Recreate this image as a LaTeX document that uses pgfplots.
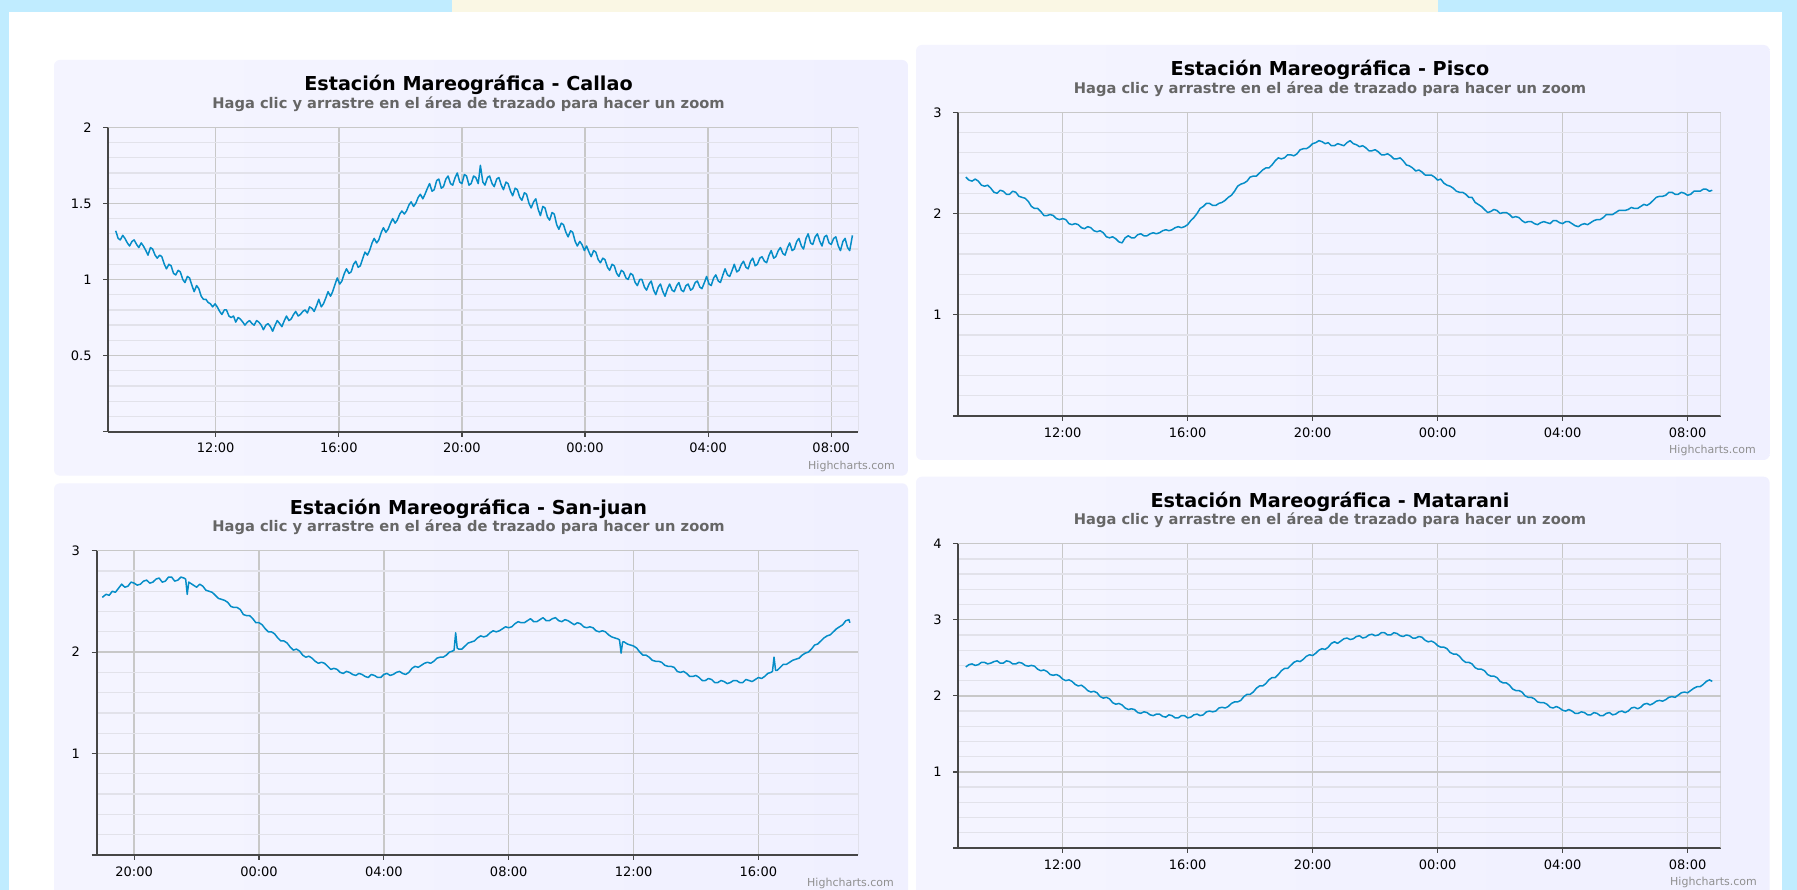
\documentclass[border=0pt]{standalone}
\usepackage{fontspec}
\setmainfont{DejaVu Sans}
\usepackage{pgfplots}
\pgfplotsset{compat=1.18}
\definecolor{hcblue}{HTML}{058DC7}
\definecolor{bgcyan}{RGB}{192,236,255}
\definecolor{lav}{RGB}{240,240,255}
\definecolor{majgrid}{RGB}{200,200,200}
\definecolor{mingrid}{RGB}{226,226,234}
\definecolor{subgray}{HTML}{666666}
\definecolor{hcgray}{HTML}{909090}
\definecolor{axisdark}{RGB}{70,70,70}
\definecolor{banner}{RGB}{250,247,228}
\pgfplotsset{
  tide/.style={
    scale only axis, anchor=south west, ymin=0,
    axis x line*=bottom, axis y line*=left,
    axis line style={line width=1.8pt, draw=axisdark},
    xmajorgrids, ymajorgrids, yminorgrids,
    minor y tick num=4,
    major grid style={draw=majgrid, line width=1.4pt},
    minor grid style={draw=mingrid, line width=1.3pt},
    tick align=outside, major tick length=5pt,
    major tick style={line width=1.2pt, draw=axisdark},
    minor tick style={draw=none},
    xticklabel style={font=\fontsize{13}{13}\selectfont, inner sep=0pt, anchor=center, yshift=-11.5pt},
    yticklabel style={font=\fontsize{13}{13}\selectfont, inner sep=0pt, anchor=east, xshift=-11.5pt},
  },
  tideline/.style={hcblue, line width=1.5pt, line join=round},
}
\newcommand{\titles}[3]{%
  \node[anchor=base, font=\bfseries\fontsize{19.2}{20}\selectfont] at (#1,#2) {Estación Mareográfica - #3};
  \node[anchor=base, font=\bfseries\fontsize{14.66}{15}\selectfont, text=subgray] at (#1,#2-17.6) {Haga clic y arrastre en el área de trazado para hacer un zoom};}
\begin{document}
\begin{tikzpicture}
\path[use as bounding box] (0,0) rectangle (1797pt,890pt);
\clip (0,0) rectangle (1797pt,890pt);
\begin{scope}[x=1pt,y=1pt]
\fill[bgcyan] (0,0) rectangle (1797,890);
\fill[banner] (452,877.5) rectangle (1438,890);
\fill[white] (9,-5) rectangle (1782,877.5);
\shade[rounded corners=6pt, left color=white!30!lav, right color=lav] (54,414.3) rectangle (908,830);
\shade[rounded corners=6pt, left color=white!30!lav, right color=lav] (916,430) rectangle (1769.6,845);
\shade[rounded corners=6pt, left color=white!30!lav, right color=lav] (54,-20) rectangle (908,406.7);
\shade[rounded corners=6pt, left color=white!30!lav, right color=lav] (916,-20) rectangle (1769.6,413.3);
\titles{468.5}{799.3}{Callao}
\titles{1330}{814.3}{Pisco}
\titles{468.5}{375.9}{San-juan}
\titles{1330}{382.9}{Matarani}
\node[anchor=base east, inner sep=0pt, font=\fontsize{11}{11}\selectfont, text=hcgray] at (895,420) {Highcharts.com};
\node[anchor=base east, inner sep=0pt, font=\fontsize{11}{11}\selectfont, text=hcgray] at (1756,436) {Highcharts.com};
\node[anchor=base east, inner sep=0pt, font=\fontsize{11}{11}\selectfont, text=hcgray] at (894,3) {Highcharts.com};
\node[anchor=base east, inner sep=0pt, font=\fontsize{11}{11}\selectfont, text=hcgray] at (1757,4) {Highcharts.com};
\end{scope}

% Callao
\begin{axis}[tide, at={(108.3pt,458.3pt)}, width=750pt, height=304.4pt,
  xmin=8.51, xmax=32.88, ymax=2,
  xtick={12,16,20,24,28,32}, xticklabels={12:00,16:00,20:00,00:00,04:00,08:00},
  ytick={0,0.5,1,1.5,2}, yticklabels={,0.5,1,1.5,2}]
\draw[majgrid, line width=1.4pt] (rel axis cs:0,1) -- (rel axis cs:1,1) -- (rel axis cs:1,0);
\addplot[tideline] coordinates {
(8.75,1.32)(8.83,1.27)(8.90,1.26)(8.98,1.29)(9.05,1.27)(9.13,1.24)(9.20,1.22)(9.28,1.25)(9.35,1.26)(9.43,1.23)(9.50,1.21)(9.58,1.24)(9.65,1.22)(9.73,1.19)(9.80,1.16)(9.88,1.21)(9.95,1.20)(10.03,1.16)(10.10,1.14)(10.18,1.16)(10.25,1.15)(10.33,1.10)(10.40,1.07)(10.48,1.10)(10.55,1.09)(10.63,1.04)(10.70,1.03)(10.78,1.06)(10.85,1.05)(10.93,1.00)(11.00,0.98)(11.08,1.02)(11.15,1.01)(11.23,0.96)(11.30,0.92)(11.38,0.96)(11.45,0.94)(11.53,0.89)(11.60,0.87)(11.68,0.87)(11.75,0.85)(11.83,0.84)(11.90,0.82)(11.98,0.84)(12.05,0.82)(12.13,0.79)(12.20,0.77)(12.28,0.80)(12.35,0.80)(12.43,0.76)(12.50,0.75)(12.58,0.76)(12.65,0.72)(12.73,0.75)(12.80,0.74)(12.88,0.72)(12.95,0.70)(13.03,0.72)(13.10,0.73)(13.18,0.71)(13.25,0.70)(13.33,0.73)(13.40,0.72)(13.48,0.70)(13.55,0.67)(13.63,0.70)(13.70,0.71)(13.78,0.69)(13.85,0.66)(13.93,0.70)(14.00,0.73)(14.08,0.71)(14.15,0.69)(14.23,0.73)(14.30,0.76)(14.38,0.73)(14.45,0.74)(14.53,0.77)(14.60,0.79)(14.68,0.76)(14.75,0.77)(14.83,0.79)(14.90,0.80)(14.98,0.78)(15.05,0.82)(15.13,0.81)(15.20,0.79)(15.28,0.83)(15.35,0.87)(15.43,0.82)(15.50,0.84)(15.58,0.88)(15.65,0.92)(15.73,0.89)(15.80,0.92)(15.88,0.97)(15.95,1.01)(16.03,0.97)(16.10,0.99)(16.18,1.04)(16.25,1.07)(16.33,1.04)(16.40,1.05)(16.48,1.10)(16.55,1.12)(16.63,1.08)(16.70,1.09)(16.78,1.14)(16.85,1.18)(16.93,1.16)(17.00,1.19)(17.08,1.24)(17.15,1.27)(17.23,1.24)(17.30,1.26)(17.38,1.31)(17.45,1.34)(17.53,1.31)(17.60,1.33)(17.68,1.37)(17.75,1.40)(17.83,1.37)(17.90,1.39)(17.98,1.43)(18.05,1.45)(18.13,1.43)(18.20,1.45)(18.28,1.49)(18.35,1.51)(18.43,1.48)(18.50,1.50)(18.58,1.54)(18.65,1.56)(18.73,1.53)(18.80,1.56)(18.88,1.60)(18.95,1.63)(19.03,1.58)(19.10,1.59)(19.18,1.65)(19.25,1.66)(19.33,1.60)(19.40,1.61)(19.48,1.66)(19.55,1.68)(19.63,1.63)(19.70,1.62)(19.78,1.67)(19.85,1.70)(19.93,1.64)(20.00,1.63)(20.08,1.69)(20.15,1.68)(20.23,1.62)(20.30,1.63)(20.38,1.68)(20.45,1.67)(20.53,1.63)(20.60,1.75)(20.68,1.64)(20.75,1.62)(20.83,1.67)(20.90,1.68)(20.98,1.63)(21.05,1.61)(21.13,1.66)(21.20,1.67)(21.28,1.62)(21.35,1.59)(21.43,1.64)(21.50,1.63)(21.58,1.58)(21.65,1.55)(21.73,1.60)(21.80,1.59)(21.88,1.54)(21.95,1.52)(22.03,1.57)(22.10,1.56)(22.18,1.50)(22.25,1.47)(22.33,1.51)(22.40,1.53)(22.48,1.46)(22.55,1.42)(22.63,1.48)(22.70,1.47)(22.78,1.41)(22.85,1.39)(22.93,1.44)(23.00,1.43)(23.08,1.36)(23.15,1.33)(23.23,1.37)(23.30,1.36)(23.38,1.31)(23.45,1.28)(23.53,1.32)(23.60,1.31)(23.68,1.25)(23.75,1.22)(23.83,1.25)(23.90,1.23)(23.98,1.19)(24.05,1.22)(24.13,1.18)(24.20,1.15)(24.28,1.19)(24.35,1.18)(24.43,1.13)(24.50,1.11)(24.58,1.14)(24.65,1.13)(24.73,1.08)(24.80,1.06)(24.88,1.10)(24.95,1.09)(25.03,1.04)(25.10,1.02)(25.18,1.06)(25.25,1.05)(25.33,1.01)(25.40,1.00)(25.48,1.04)(25.55,1.03)(25.63,0.98)(25.70,0.96)(25.78,1.00)(25.85,1.00)(25.93,0.95)(26.00,0.93)(26.08,0.97)(26.15,0.99)(26.23,0.93)(26.30,0.90)(26.38,0.95)(26.45,0.97)(26.53,0.92)(26.60,0.89)(26.68,0.94)(26.75,0.97)(26.83,0.93)(26.90,0.92)(26.98,0.96)(27.05,0.98)(27.13,0.93)(27.20,0.92)(27.28,0.96)(27.35,0.97)(27.43,0.93)(27.50,0.94)(27.58,0.98)(27.65,0.99)(27.73,0.95)(27.80,0.94)(27.88,0.98)(27.95,1.02)(28.03,0.97)(28.10,0.96)(28.18,1.01)(28.25,1.03)(28.33,0.99)(28.40,0.98)(28.48,1.03)(28.55,1.07)(28.63,1.03)(28.70,1.02)(28.78,1.06)(28.85,1.10)(28.93,1.05)(29.00,1.06)(29.08,1.10)(29.15,1.12)(29.23,1.08)(29.30,1.07)(29.38,1.12)(29.45,1.14)(29.53,1.09)(29.60,1.10)(29.68,1.14)(29.75,1.15)(29.83,1.12)(29.90,1.11)(29.98,1.16)(30.05,1.19)(30.13,1.14)(30.20,1.15)(30.28,1.19)(30.35,1.21)(30.43,1.17)(30.50,1.16)(30.58,1.21)(30.65,1.24)(30.73,1.19)(30.80,1.20)(30.88,1.25)(30.95,1.27)(31.03,1.22)(31.10,1.20)(31.18,1.27)(31.25,1.30)(31.33,1.24)(31.40,1.23)(31.48,1.28)(31.55,1.30)(31.63,1.25)(31.70,1.22)(31.78,1.28)(31.85,1.29)(31.93,1.24)(32.00,1.23)(32.08,1.27)(32.15,1.28)(32.23,1.22)(32.30,1.19)(32.38,1.25)(32.45,1.27)(32.53,1.21)(32.60,1.19)(32.69,1.29)
};
\end{axis}

% Pisco
\begin{axis}[tide, at={(958.3pt,474pt)}, width=762.4pt, height=303.7pt,
  xmin=8.66, xmax=33.06, ymax=3,
  xtick={12,16,20,24,28,32}, xticklabels={12:00,16:00,20:00,00:00,04:00,08:00},
  ytick={0,1,2,3}, yticklabels={,1,2,3}]
\draw[majgrid, line width=1.4pt] (rel axis cs:0,1) -- (rel axis cs:1,1) -- (rel axis cs:1,0);
\addplot[tideline] coordinates {
(8.90,2.36)(9.00,2.33)(9.10,2.32)(9.20,2.34)(9.30,2.32)(9.40,2.28)(9.50,2.27)(9.60,2.28)(9.70,2.25)(9.80,2.21)(9.90,2.20)(10.00,2.23)(10.10,2.22)(10.20,2.19)(10.30,2.19)(10.40,2.22)(10.50,2.21)(10.60,2.17)(10.70,2.16)(10.80,2.15)(10.90,2.12)(11.00,2.07)(11.10,2.05)(11.20,2.05)(11.30,2.02)(11.40,1.98)(11.50,1.98)(11.60,1.99)(11.70,1.98)(11.80,1.95)(11.90,1.94)(12.00,1.95)(12.10,1.94)(12.20,1.90)(12.30,1.89)(12.40,1.90)(12.50,1.89)(12.60,1.86)(12.70,1.85)(12.80,1.87)(12.90,1.86)(13.00,1.83)(13.10,1.82)(13.20,1.83)(13.30,1.81)(13.40,1.77)(13.50,1.76)(13.60,1.77)(13.70,1.75)(13.80,1.72)(13.90,1.71)(14.00,1.76)(14.10,1.78)(14.20,1.76)(14.30,1.76)(14.40,1.79)(14.50,1.80)(14.60,1.78)(14.70,1.78)(14.80,1.80)(14.90,1.81)(15.00,1.80)(15.10,1.81)(15.20,1.83)(15.30,1.84)(15.40,1.83)(15.50,1.84)(15.60,1.86)(15.70,1.87)(15.80,1.86)(15.90,1.87)(16.00,1.89)(16.10,1.93)(16.20,1.96)(16.30,2.00)(16.40,2.05)(16.50,2.07)(16.60,2.10)(16.70,2.10)(16.80,2.08)(16.90,2.08)(17.00,2.10)(17.10,2.11)(17.20,2.13)(17.30,2.16)(17.40,2.18)(17.50,2.22)(17.60,2.27)(17.70,2.29)(17.80,2.30)(17.90,2.32)(18.00,2.36)(18.10,2.37)(18.20,2.37)(18.30,2.40)(18.40,2.43)(18.50,2.45)(18.60,2.45)(18.70,2.48)(18.80,2.52)(18.90,2.55)(19.00,2.54)(19.10,2.55)(19.20,2.58)(19.30,2.58)(19.40,2.57)(19.50,2.59)(19.60,2.63)(19.70,2.64)(19.80,2.64)(19.90,2.66)(20.00,2.69)(20.10,2.70)(20.20,2.72)(20.30,2.71)(20.40,2.69)(20.50,2.70)(20.60,2.67)(20.70,2.67)(20.80,2.69)(20.90,2.68)(21.00,2.67)(21.10,2.70)(21.20,2.72)(21.30,2.69)(21.40,2.68)(21.50,2.66)(21.60,2.67)(21.70,2.65)(21.80,2.62)(21.90,2.62)(22.00,2.63)(22.10,2.61)(22.20,2.58)(22.30,2.58)(22.40,2.59)(22.50,2.57)(22.60,2.54)(22.70,2.54)(22.80,2.55)(22.90,2.52)(23.00,2.48)(23.10,2.47)(23.20,2.45)(23.30,2.42)(23.40,2.43)(23.50,2.41)(23.60,2.38)(23.70,2.38)(23.80,2.38)(23.90,2.36)(24.00,2.33)(24.10,2.34)(24.20,2.30)(24.30,2.28)(24.40,2.27)(24.50,2.25)(24.60,2.22)(24.70,2.21)(24.80,2.21)(24.90,2.19)(25.00,2.16)(25.10,2.16)(25.20,2.11)(25.30,2.09)(25.40,2.07)(25.50,2.04)(25.60,2.01)(25.70,2.02)(25.80,2.04)(25.90,2.03)(26.00,2.00)(26.10,2.01)(26.20,2.01)(26.30,1.99)(26.40,1.96)(26.50,1.97)(26.60,1.96)(26.70,1.93)(26.80,1.91)(26.90,1.92)(27.00,1.92)(27.10,1.90)(27.20,1.89)(27.30,1.91)(27.40,1.92)(27.50,1.91)(27.60,1.90)(27.70,1.93)(27.80,1.93)(27.90,1.91)(28.00,1.90)(28.10,1.92)(28.20,1.92)(28.30,1.90)(28.40,1.88)(28.50,1.87)(28.60,1.89)(28.70,1.90)(28.80,1.89)(28.90,1.91)(29.00,1.93)(29.10,1.94)(29.20,1.94)(29.30,1.96)(29.40,1.99)(29.50,1.99)(29.60,1.99)(29.70,2.01)(29.80,2.03)(29.90,2.03)(30.00,2.03)(30.10,2.04)(30.20,2.06)(30.30,2.05)(30.40,2.05)(30.50,2.07)(30.60,2.09)(30.70,2.08)(30.80,2.10)(30.90,2.13)(31.00,2.16)(31.10,2.17)(31.20,2.17)(31.30,2.18)(31.40,2.21)(31.50,2.21)(31.60,2.19)(31.70,2.19)(31.80,2.21)(31.90,2.20)(32.00,2.18)(32.10,2.19)(32.20,2.22)(32.30,2.22)(32.40,2.22)(32.50,2.24)(32.60,2.24)(32.70,2.22)(32.79,2.23)
};
\end{axis}

% San-juan
\begin{axis}[tide, at={(96.7pt,35pt)}, width=761.6pt, height=304.3pt,
  xmin=18.8, xmax=43.2, ymax=3,
  xtick={20,24,28,32,36,40}, xticklabels={20:00,00:00,04:00,08:00,12:00,16:00},
  ytick={0,1,2,3}, yticklabels={,1,2,3}]
\draw[majgrid, line width=1.4pt] (rel axis cs:0,1) -- (rel axis cs:1,1) -- (rel axis cs:1,0);
\addplot[tideline] coordinates {
(18.98,2.54)(19.10,2.57)(19.20,2.56)(19.30,2.60)(19.40,2.59)(19.50,2.63)(19.60,2.67)(19.70,2.64)(19.80,2.65)(19.90,2.69)(20.00,2.68)(20.10,2.66)(20.20,2.67)(20.30,2.70)(20.40,2.71)(20.50,2.68)(20.60,2.69)(20.70,2.72)(20.80,2.73)(20.90,2.69)(21.00,2.70)(21.10,2.74)(21.20,2.74)(21.30,2.70)(21.40,2.71)(21.50,2.74)(21.60,2.73)(21.65,2.72)(21.70,2.57)(21.75,2.69)(21.80,2.68)(21.90,2.66)(22.00,2.64)(22.10,2.67)(22.20,2.65)(22.30,2.61)(22.40,2.60)(22.50,2.59)(22.60,2.56)(22.70,2.53)(22.80,2.52)(22.90,2.51)(23.00,2.49)(23.10,2.45)(23.20,2.44)(23.30,2.44)(23.40,2.42)(23.50,2.37)(23.60,2.36)(23.70,2.36)(23.80,2.33)(23.90,2.29)(24.00,2.29)(24.10,2.27)(24.20,2.23)(24.30,2.20)(24.40,2.20)(24.50,2.18)(24.60,2.14)(24.70,2.11)(24.80,2.11)(24.90,2.09)(25.00,2.05)(25.10,2.02)(25.20,2.03)(25.30,2.01)(25.40,1.97)(25.50,1.95)(25.60,1.96)(25.70,1.94)(25.80,1.91)(25.90,1.89)(26.00,1.90)(26.10,1.89)(26.20,1.86)(26.30,1.83)(26.40,1.84)(26.50,1.83)(26.60,1.80)(26.70,1.79)(26.80,1.81)(26.90,1.80)(27.00,1.78)(27.10,1.77)(27.20,1.79)(27.30,1.78)(27.40,1.76)(27.50,1.75)(27.60,1.78)(27.70,1.77)(27.80,1.75)(27.90,1.75)(28.00,1.78)(28.10,1.79)(28.20,1.77)(28.30,1.78)(28.40,1.80)(28.50,1.81)(28.60,1.79)(28.70,1.78)(28.80,1.80)(28.90,1.84)(29.00,1.86)(29.10,1.85)(29.20,1.87)(29.30,1.89)(29.40,1.90)(29.50,1.89)(29.60,1.91)(29.70,1.94)(29.80,1.95)(29.90,1.95)(30.00,1.97)(30.10,2.00)(30.20,2.01)(30.25,2.02)(30.30,2.19)(30.35,2.04)(30.40,2.03)(30.50,2.03)(30.60,2.06)(30.70,2.09)(30.80,2.10)(30.90,2.11)(31.00,2.14)(31.10,2.16)(31.20,2.15)(31.30,2.16)(31.40,2.19)(31.50,2.21)(31.60,2.20)(31.70,2.21)(31.80,2.23)(31.90,2.25)(32.00,2.24)(32.10,2.25)(32.20,2.28)(32.30,2.30)(32.40,2.29)(32.50,2.29)(32.60,2.31)(32.70,2.33)(32.80,2.30)(32.90,2.30)(33.00,2.32)(33.10,2.34)(33.20,2.31)(33.30,2.31)(33.40,2.33)(33.50,2.34)(33.60,2.31)(33.70,2.30)(33.80,2.32)(33.90,2.31)(34.00,2.29)(34.10,2.27)(34.20,2.29)(34.30,2.28)(34.40,2.25)(34.50,2.24)(34.60,2.25)(34.70,2.24)(34.80,2.21)(34.90,2.20)(35.00,2.21)(35.10,2.20)(35.20,2.17)(35.30,2.15)(35.40,2.14)(35.50,2.13)(35.55,2.12)(35.60,1.99)(35.65,2.10)(35.70,2.10)(35.80,2.08)(35.90,2.07)(36.00,2.06)(36.10,2.04)(36.20,2.00)(36.30,1.97)(36.40,1.97)(36.50,1.95)(36.60,1.92)(36.70,1.91)(36.80,1.91)(36.90,1.90)(37.00,1.87)(37.10,1.86)(37.20,1.86)(37.30,1.85)(37.40,1.81)(37.50,1.80)(37.60,1.81)(37.70,1.79)(37.80,1.76)(37.90,1.76)(38.00,1.77)(38.10,1.75)(38.20,1.72)(38.30,1.72)(38.40,1.74)(38.50,1.73)(38.60,1.70)(38.70,1.70)(38.80,1.72)(38.90,1.71)(39.00,1.69)(39.10,1.70)(39.20,1.72)(39.30,1.72)(39.40,1.70)(39.50,1.70)(39.60,1.73)(39.70,1.72)(39.80,1.71)(39.90,1.73)(40.00,1.75)(40.10,1.74)(40.20,1.76)(40.30,1.79)(40.40,1.80)(40.45,1.81)(40.50,1.95)(40.55,1.82)(40.60,1.82)(40.70,1.85)(40.80,1.88)(40.90,1.88)(41.00,1.90)(41.10,1.92)(41.20,1.93)(41.30,1.94)(41.40,1.97)(41.50,1.99)(41.60,2.00)(41.70,2.03)(41.80,2.07)(41.90,2.08)(42.00,2.11)(42.10,2.14)(42.20,2.16)(42.30,2.17)(42.40,2.20)(42.50,2.23)(42.60,2.25)(42.70,2.27)(42.80,2.31)(42.90,2.32)(42.93,2.29)
};
\end{axis}

% Matarani
\begin{axis}[tide, at={(958.3pt,42pt)}, width=762.4pt, height=304.3pt,
  xmin=8.66, xmax=33.06, ymax=4,
  xtick={12,16,20,24,28,32}, xticklabels={12:00,16:00,20:00,00:00,04:00,08:00},
  ytick={0,1,2,3,4}, yticklabels={,1,2,3,4}]
\draw[majgrid, line width=1.4pt] (rel axis cs:0,1) -- (rel axis cs:1,1) -- (rel axis cs:1,0);
\addplot[tideline] coordinates {
(8.90,2.38)(9.00,2.41)(9.10,2.42)(9.20,2.40)(9.30,2.41)(9.40,2.44)(9.50,2.44)(9.60,2.42)(9.70,2.43)(9.80,2.45)(9.90,2.46)(10.00,2.43)(10.10,2.43)(10.20,2.46)(10.30,2.45)(10.40,2.42)(10.50,2.42)(10.60,2.44)(10.70,2.43)(10.80,2.40)(10.90,2.39)(11.00,2.40)(11.10,2.39)(11.20,2.35)(11.30,2.33)(11.40,2.34)(11.50,2.32)(11.60,2.28)(11.70,2.27)(11.80,2.28)(11.90,2.26)(12.00,2.22)(12.10,2.20)(12.20,2.21)(12.30,2.19)(12.40,2.15)(12.50,2.13)(12.60,2.14)(12.70,2.11)(12.80,2.07)(12.90,2.05)(13.00,2.06)(13.10,2.04)(13.20,1.99)(13.30,1.97)(13.40,1.98)(13.50,1.96)(13.60,1.91)(13.70,1.89)(13.80,1.90)(13.90,1.88)(14.00,1.84)(14.10,1.82)(14.20,1.83)(14.30,1.82)(14.40,1.78)(14.50,1.77)(14.60,1.79)(14.70,1.78)(14.80,1.75)(14.90,1.74)(15.00,1.76)(15.10,1.76)(15.20,1.73)(15.30,1.72)(15.40,1.75)(15.50,1.74)(15.60,1.71)(15.70,1.71)(15.80,1.74)(15.90,1.74)(16.00,1.71)(16.10,1.72)(16.20,1.75)(16.30,1.76)(16.40,1.74)(16.50,1.75)(16.60,1.79)(16.70,1.80)(16.80,1.79)(16.90,1.80)(17.00,1.84)(17.10,1.85)(17.20,1.84)(17.30,1.86)(17.40,1.90)(17.50,1.92)(17.60,1.92)(17.70,1.94)(17.80,1.99)(17.90,2.02)(18.00,2.02)(18.10,2.05)(18.20,2.10)(18.30,2.13)(18.40,2.13)(18.50,2.16)(18.60,2.21)(18.70,2.24)(18.80,2.24)(18.90,2.28)(19.00,2.33)(19.10,2.36)(19.20,2.36)(19.30,2.40)(19.40,2.44)(19.50,2.46)(19.60,2.45)(19.70,2.48)(19.80,2.52)(19.90,2.54)(20.00,2.53)(20.10,2.56)(20.20,2.60)(20.30,2.62)(20.40,2.61)(20.50,2.64)(20.60,2.69)(20.70,2.71)(20.80,2.69)(20.90,2.72)(21.00,2.75)(21.10,2.76)(21.20,2.74)(21.30,2.75)(21.40,2.78)(21.50,2.79)(21.60,2.76)(21.70,2.77)(21.80,2.80)(21.90,2.81)(22.00,2.79)(22.10,2.80)(22.20,2.83)(22.30,2.83)(22.40,2.80)(22.50,2.80)(22.60,2.83)(22.70,2.82)(22.80,2.79)(22.90,2.78)(23.00,2.80)(23.10,2.79)(23.20,2.76)(23.30,2.76)(23.40,2.78)(23.50,2.77)(23.60,2.73)(23.70,2.71)(23.80,2.72)(23.90,2.70)(24.00,2.66)(24.10,2.64)(24.20,2.64)(24.30,2.62)(24.40,2.57)(24.50,2.55)(24.60,2.55)(24.70,2.52)(24.80,2.47)(24.90,2.44)(25.00,2.44)(25.10,2.42)(25.20,2.37)(25.30,2.35)(25.40,2.35)(25.50,2.33)(25.60,2.28)(25.70,2.26)(25.80,2.26)(25.90,2.24)(26.00,2.19)(26.10,2.17)(26.20,2.17)(26.30,2.14)(26.40,2.09)(26.50,2.07)(26.60,2.07)(26.70,2.05)(26.80,2.00)(26.90,1.98)(27.00,1.98)(27.10,1.96)(27.20,1.92)(27.30,1.91)(27.40,1.91)(27.50,1.89)(27.60,1.85)(27.70,1.84)(27.80,1.86)(27.90,1.84)(28.00,1.81)(28.10,1.80)(28.20,1.82)(28.30,1.80)(28.40,1.77)(28.50,1.77)(28.60,1.79)(28.70,1.78)(28.80,1.75)(28.90,1.75)(29.00,1.78)(29.10,1.77)(29.20,1.74)(29.30,1.74)(29.40,1.77)(29.50,1.78)(29.60,1.75)(29.70,1.76)(29.80,1.79)(29.90,1.80)(30.00,1.78)(30.10,1.80)(30.20,1.84)(30.30,1.85)(30.40,1.83)(30.50,1.85)(30.60,1.89)(30.70,1.90)(30.80,1.88)(30.90,1.90)(31.00,1.93)(31.10,1.94)(31.20,1.93)(31.30,1.95)(31.40,1.98)(31.50,1.99)(31.60,1.98)(31.70,2.01)(31.80,2.04)(31.90,2.05)(32.00,2.04)(32.10,2.07)(32.20,2.10)(32.30,2.12)(32.40,2.12)(32.50,2.15)(32.60,2.19)(32.70,2.21)(32.79,2.19)
};
\end{axis}
\end{tikzpicture}
\end{document}
